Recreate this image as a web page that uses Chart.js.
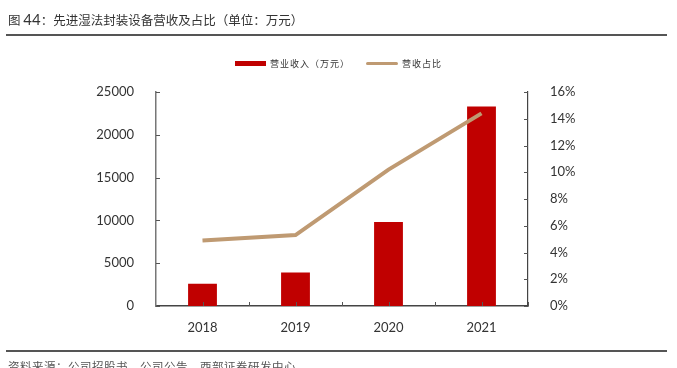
<!DOCTYPE html>
<html>
<head>
<meta charset="utf-8">
<script src="https://cdn.jsdelivr.net/npm/chart.js@4/dist/chart.umd.min.js"></script>
<style>
  body { margin: 0; background: #fff; overflow: hidden; }
  #wrap { position: relative; width: 677px; height: 368px; }
  canvas { position: absolute; left: 0; top: 0; }
  .title { position: absolute; left: 8px; top: 10px; font: 12.5px "Noto Sans CJK SC"; color: #333; white-space: nowrap; }
  .title .num { font-family: "Lato"; font-size: 15px; }
  .rule { position: absolute; left: 6px; width: 661px; height: 2px; background: #555; }
  .foot { position: absolute; left: 8px; top: 358px; font: 11.5px "Noto Sans CJK SC"; color: #555; white-space: nowrap; letter-spacing: 0.5px; }
  .leg { position: absolute; top: 57px; font: 9px "Noto Sans CJK SC"; color: #333; white-space: nowrap; letter-spacing: 1px; }
  .sw { position: absolute; }
</style>
</head>
<body>
<div id="wrap">
  <canvas id="chart" width="677" height="368"></canvas>
  <div class="title">图 <span class="num">44</span>：先进湿法封装设备营收及占比（单位：万元）</div>
  <div class="rule" style="top:34px"></div>
  <div class="sw" style="left:235px; top:61px; width:31px; height:5px; background:#C00000"></div>
  <div class="leg" style="left:270px">营业收入（万元）</div>
  <div class="sw" style="left:366px; top:62px; width:32px; height:3px; background:#BF9A72; border-radius:2px"></div>
  <div class="leg" style="left:402px">营收占比</div>
  <div class="rule" style="top:350px"></div>
  <div class="foot">资料来源：公司招股书，公司公告，西部证券研发中心</div>
</div>
<script>
// data
const years = ['2018', '2019', '2020', '2021'];
const revenue = [2600, 3900, 9800, 23300];      // 营业收入（万元）
const shareRate = [4.9, 5.3, 10.2, 14.4];       // 营收占比 (%)

// short tick marks pointing into the plot, like the original
const innerTicks = {
  id: 'innerTicks',
  afterDraw(chart) {
    const ctx = chart.ctx;
    const area = chart.chartArea;
    const x = chart.scales.x, y = chart.scales.y, y1 = chart.scales.y1;
    ctx.save();
    ctx.lineWidth = 1;
    ctx.strokeStyle = '#555';
    y.ticks.forEach(t => {
      const py = Math.round(y.getPixelForValue(t.value)) + 0.5;
      ctx.beginPath(); ctx.moveTo(area.left, py); ctx.lineTo(area.left + 4, py); ctx.stroke();
    });
    y1.ticks.forEach(t => {
      const py = Math.round(y1.getPixelForValue(t.value)) + 0.5;
      ctx.beginPath(); ctx.moveTo(area.right, py); ctx.lineTo(area.right - 4, py); ctx.stroke();
    });
    const step = x.getPixelForValue(1) - x.getPixelForValue(0);
    years.forEach((_, i) => {
      const c = x.getPixelForValue(i);
      [c, c + step / 2].forEach(px => {
        px = Math.round(px) + 0.5;
        ctx.beginPath(); ctx.moveTo(px, area.bottom); ctx.lineTo(px, area.bottom - 4); ctx.stroke();
      });
    });
    ctx.restore();
  }
};

const tickFont = { family: 'Lato', size: 13 };

new Chart(document.getElementById('chart'), {
  type: 'bar',
  data: {
    labels: years,
    datasets: [
      {
        type: 'line',
        label: '营收占比',
        data: shareRate,
        yAxisID: 'y1',
        borderColor: '#BF9A72',
        borderWidth: 4,
        pointRadius: 0,
        tension: 0,
        order: 0
      },
      {
        label: '营业收入（万元）',
        data: revenue,
        yAxisID: 'y',
        backgroundColor: '#C00000',
        barPercentage: 0.62,
        categoryPercentage: 0.5,
        order: 1
      }
    ]
  },
  options: {
    responsive: false,
    animation: false,
    layout: { padding: { top: 92, left: 0, right: 0, bottom: 0 } },
    plugins: { legend: { display: false }, tooltip: { enabled: false } },
    scales: {
      x: {
        grid: { display: false },
        border: { color: '#444', width: 1.5 },
        ticks: { font: tickFont, color: '#333', padding: 6 },
        afterFit(s) { s.height = 62; }
      },
      y: {
        position: 'left',
        min: 0, max: 25000,
        grid: { display: false },
        border: { color: '#777', width: 1.5 },
        ticks: { stepSize: 5000, font: tickFont, color: '#333', padding: 14, callback: v => String(v) },
        afterFit(s) { s.width = 156; }
      },
      y1: {
        position: 'right',
        min: 0, max: 16,
        grid: { display: false },
        border: { color: '#444', width: 1.2 },
        ticks: { stepSize: 2, font: tickFont, color: '#333', padding: 14, callback: v => v + '%' },
        afterFit(s) { s.width = 149; }
      }
    }
  },
  plugins: [innerTicks]
});
</script>
</body>
</html>
